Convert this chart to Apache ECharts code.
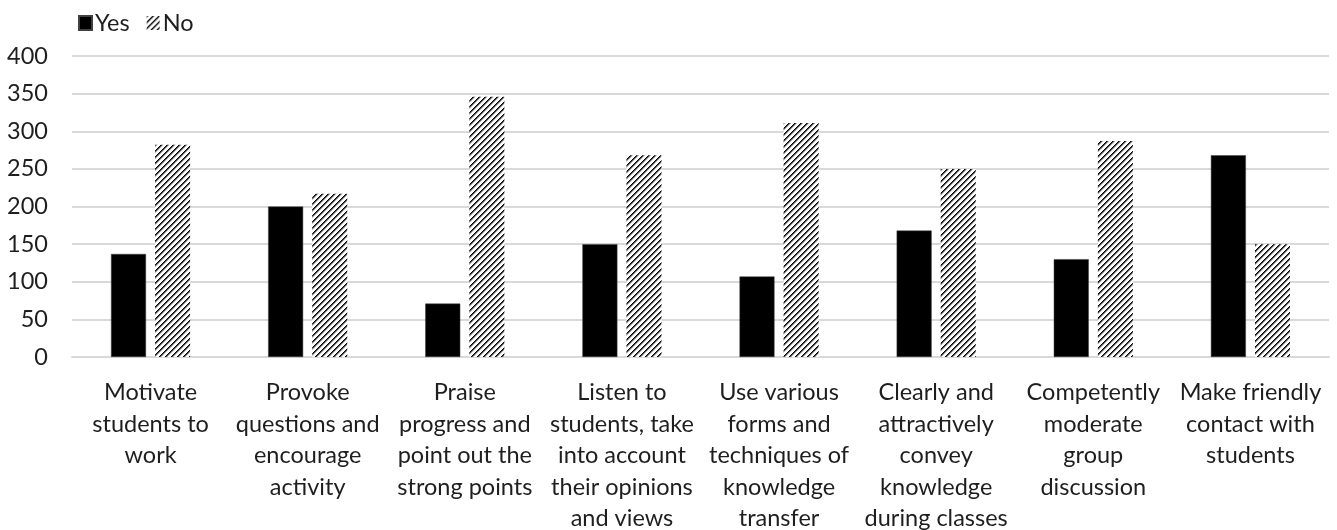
<!DOCTYPE html>
<html>
<head>
<meta charset="utf-8">
<script src="https://cdn.jsdelivr.net/npm/echarts@6/dist/echarts.min.js"></script>
<style>
  html, body { margin: 0; padding: 0; background: #fff; }
  #chart { width: 1337px; height: 530px; }
</style>
</head>
<body>
<div id="chart"></div>
<script>
// Teaching behaviours asked about in the survey
const categories = [
  'Motivate\nstudents to\nwork',
  'Provoke\nquestions and\nencourage\nactivity',
  'Praise\nprogress and\npoint out the\nstrong points',
  'Listen to\nstudents, take\ninto account\ntheir opinions\nand views',
  'Use various\nforms and\ntechniques of\nknowledge\ntransfer',
  'Clearly and\nattractively\nconvey\nknowledge\nduring classes',
  'Competently\nmoderate\ngroup\ndiscussion',
  'Make friendly\ncontact with\nstudents'
];
const yesValues = [137, 200, 71, 150, 107, 168, 130, 268];
const noValues  = [282, 217, 346, 268, 311, 250, 287, 150];
const seriesNames = ['Yes', 'No'];

// Upward diagonal hatch used for the "No" bars
function makeHatch() {
  const size = 6;
  const c = document.createElement('canvas');
  c.width = size; c.height = size;
  const ctx = c.getContext('2d');
  ctx.fillStyle = '#ffffff';
  ctx.fillRect(0, 0, size, size);
  for (let i = 0; i < size; i++) {
    const x = size - 1 - i;
    ctx.fillStyle = '#000000';
    ctx.fillRect(x, i, 1, 1);
    ctx.fillStyle = '#4a4a4a';
    ctx.fillRect((x + 1) % size, i, 1, 1);
    ctx.fillStyle = '#b5b5b5';
    ctx.fillRect((x + 2) % size, i, 1, 1);
  }
  return c;
}
const hatch = { image: makeHatch(), repeat: 'repeat' };

const FONT = 'Lato, "Open Sans", sans-serif';
const TEXT = '#1e1e1e';

const chart = echarts.init(document.getElementById('chart'), null, { renderer: 'canvas' });
chart.setOption({
  animation: false,
  backgroundColor: '#ffffff',
  legend: {
    left: 73,
    top: 6,
    itemWidth: 13,
    itemHeight: 14,
    itemGap: 17,
    icon: 'rect',
    textStyle: { fontFamily: FONT, fontSize: 23.5, color: TEXT, padding: [0, 0, 0, -2] },
    data: seriesNames
  },
  grid: { left: 72, right: 8, top: 56, bottom: 173, containLabel: false, outerBoundsMode: 'none' },
  xAxis: {
    type: 'category',
    data: categories,
    axisLine: { show: true, lineStyle: { color: '#d9d9d9', width: 2 } },
    axisTick: { show: false },
    axisLabel: {
      interval: 0,
      margin: 20,
      fontFamily: FONT,
      fontSize: 23.5,
      lineHeight: 31.5,
      color: TEXT,
      align: 'center'
    }
  },
  yAxis: {
    type: 'value',
    min: 0,
    max: 400,
    interval: 50,
    axisLine: { show: false },
    axisTick: { show: false },
    splitLine: { lineStyle: { color: '#d9d9d9', width: 2 } },
    axisLabel: { margin: 24, fontFamily: FONT, fontSize: 23.5, color: TEXT }
  },
  series: [
    {
      name: seriesNames[0],
      type: 'bar',
      data: yesValues,
      barWidth: 35,
      barGap: '26%',
      itemStyle: { color: '#000000', borderColor: '#404040', borderWidth: 0.5 }
    },
    {
      name: seriesNames[1],
      type: 'bar',
      data: noValues,
      barWidth: 35,
      itemStyle: { color: hatch }
    }
  ]
});
</script>
</body>
</html>
